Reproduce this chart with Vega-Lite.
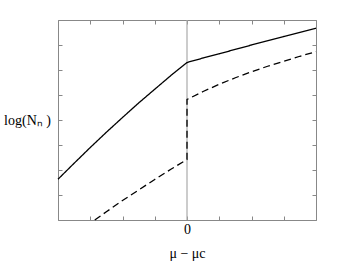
{
  "$schema": "https://vega.github.io/schema/vega-lite/v6.json",
  "width": 258,
  "height": 200,
  "autosize": {"type": "none"},
  "padding": {"left": 58, "top": 20, "right": 30, "bottom": 47},
  "background": "white",
  "config": {
    "view": {"stroke": "#888888", "strokeWidth": 1},
    "font": "Liberation Serif",
    "axis": {"grid": false, "domain": false, "tickColor": "#888888", "tickSize": -4, "tickWidth": 1, "labelFont": "Liberation Serif", "titleFont": "Liberation Serif", "labelFontSize": 14, "titleFontSize": 14, "titleFontWeight": "normal", "labelColor": "black", "titleColor": "black"}
  },
  "datasets": {
    "curves": [
      {"s": "solid", "i": 0, "x": -4, "y": 1.63},
      {"s": "solid", "i": 1, "x": -3.5, "y": 2.27},
      {"s": "solid", "i": 2, "x": -3, "y": 2.9},
      {"s": "solid", "i": 3, "x": -2.5, "y": 3.51},
      {"s": "solid", "i": 4, "x": -2, "y": 4.1},
      {"s": "solid", "i": 5, "x": -1.5, "y": 4.68},
      {"s": "solid", "i": 6, "x": -1, "y": 5.23},
      {"s": "solid", "i": 7, "x": -0.5, "y": 5.78},
      {"s": "solid", "i": 8, "x": 0, "y": 6.3},
      {"s": "solid", "i": 9, "x": 0.5, "y": 6.48},
      {"s": "solid", "i": 10, "x": 1, "y": 6.65},
      {"s": "solid", "i": 11, "x": 2, "y": 7.0},
      {"s": "solid", "i": 12, "x": 3, "y": 7.34},
      {"s": "solid", "i": 13, "x": 4, "y": 7.67},
      {"s": "dashed", "i": 0, "x": -2.86, "y": 0},
      {"s": "dashed", "i": 1, "x": -2.5, "y": 0.33},
      {"s": "dashed", "i": 2, "x": -2, "y": 0.78},
      {"s": "dashed", "i": 3, "x": -1.5, "y": 1.2},
      {"s": "dashed", "i": 4, "x": -1, "y": 1.62},
      {"s": "dashed", "i": 5, "x": -0.5, "y": 2.03},
      {"s": "dashed", "i": 6, "x": 0, "y": 2.42},
      {"s": "dashed", "i": 7, "x": 0, "y": 4.82},
      {"s": "dashed", "i": 8, "x": 0.5, "y": 5.14},
      {"s": "dashed", "i": 9, "x": 1, "y": 5.43},
      {"s": "dashed", "i": 10, "x": 1.5, "y": 5.69},
      {"s": "dashed", "i": 11, "x": 2, "y": 5.93},
      {"s": "dashed", "i": 12, "x": 2.5, "y": 6.15},
      {"s": "dashed", "i": 13, "x": 3, "y": 6.35},
      {"s": "dashed", "i": 14, "x": 3.5, "y": 6.55},
      {"s": "dashed", "i": 15, "x": 4, "y": 6.73}
    ],
    "vline": [{"x": 0}]
  },
  "layer": [
    {
      "data": {"name": "vline"},
      "mark": {"type": "rule", "color": "#aaaaaa", "strokeWidth": 1.2},
      "encoding": {
        "x": {"field": "x", "type": "quantitative", "scale": {"domain": [-4, 4], "nice": false, "zero": false},
          "axis": {"orient": "bottom", "values": [-4, -3, -2, -1, 0, 1, 2, 3, 4], "labelExpr": "datum.value == 0 ? '0' : ''", "labelPadding": 6, "title": "μ − μc", "titlePadding": 10}}
      }
    },
    {
      "data": {"name": "curves"},
      "mark": {"type": "line", "color": "black", "strokeWidth": 1.3},
      "encoding": {
        "x": {"field": "x", "type": "quantitative", "scale": {"domain": [-4, 4], "nice": false, "zero": false},
          "axis": {"orient": "top", "values": [-4, -3, -2, -1, 0, 1, 2, 3, 4], "labels": false, "title": null}},
        "y": {"field": "y", "type": "quantitative", "scale": {"domain": [0, 8], "nice": false, "zero": false}, "axis": {"orient": "left", "values": [0, 1, 2, 3, 4, 5, 6, 7, 8], "labels": false, "title": "log(Nₙ )", "titleAngle": 0, "titleX": -31, "titleY": 100, "titleAlign": "center", "titleBaseline": "middle"}},
        "detail": {"field": "s"},
        "order": {"field": "i", "type": "quantitative"},
        "strokeDash": {"field": "s", "type": "nominal", "scale": {"domain": ["solid", "dashed"], "range": [[1, 0], [7, 4]]}, "legend": null}
      }
    },
    {
      "data": {"name": "vline"},
      "mark": {"type": "rule", "opacity": 0},
      "encoding": {
        "y": {"datum": 0, "type": "quantitative", "scale": {"domain": [0, 8], "nice": false, "zero": false}, "axis": {"orient": "right", "values": [0, 1, 2, 3, 4, 5, 6, 7, 8], "labels": false, "title": null}}
      }
    }
  ],
  "resolve": {"axis": {"x": "independent", "y": "independent"}}
}
